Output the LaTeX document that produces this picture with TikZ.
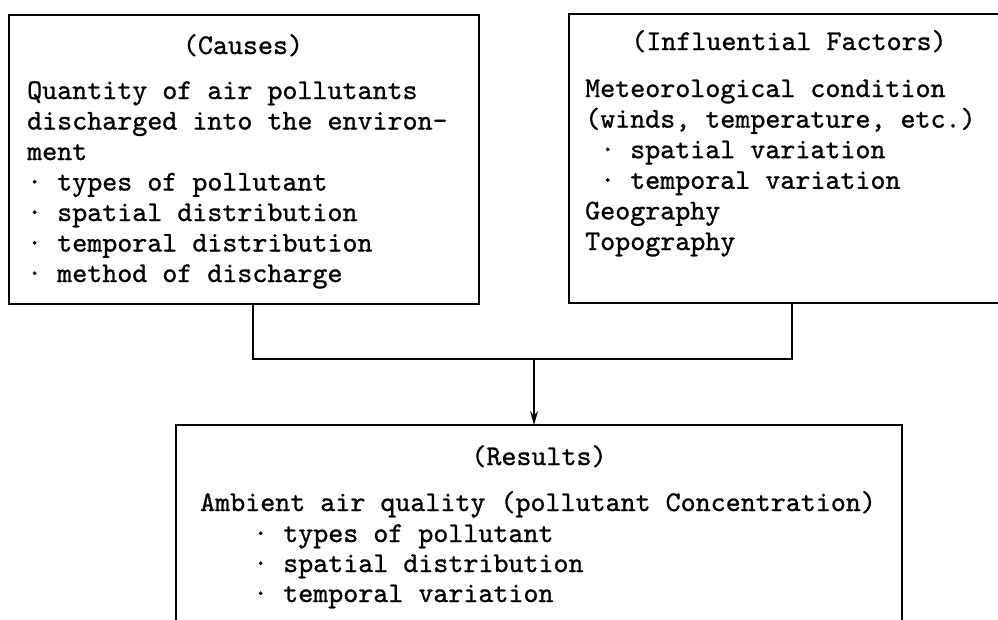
\documentclass[tikz,border=0pt]{standalone}
\usepackage{fontspec}
\newfontfamily\twfont{lmmono10-regular.otf}[UprightFeatures={FakeBold=0.9}]
\usetikzlibrary{arrows.meta}
\begin{document}
\begin{tikzpicture}[x=1pt,y=-1pt,
  boxline/.style={line width=1.6pt},
  conn/.style={line width=1.4pt},
  txt/.style={inner sep=0pt,anchor=base west,font=\fontsize{28.6}{30.8}\selectfont\twfont},
  head/.style={inner sep=0pt,anchor=base,font=\fontsize{28.6}{30.8}\selectfont\twfont}]
\useasboundingbox (0,0) rectangle (998,619);
\clip (0,0) rectangle (998,619);
% boxes
\draw[boxline] (9,15) rectangle (479,304);
\draw[boxline] (569,14) rectangle (1010,303);
\draw[boxline] (176,425) rectangle (902,640);
\coordinate (cb) at (253,304);
\coordinate (ib) at (792,303);
\coordinate (jl) at (253,359);
\coordinate (jr) at (792,359);
\coordinate (jm) at (534,359);
\coordinate (rt) at (534,425);
% left box text
\node[head] (ch) at (243,54) {(Causes)};
\foreach \t [count=\i] in {Quantity of air pollutants,discharged into the environ-,ment,· types of pollutant,· spatial distribution,· temporal distribution,· method of discharge}
  \node[txt] (c\i) at (27,{99+30.5*(\i-1)}) {\t};
% right box text
\node[head] (fh) at (789,50) {(Influential Factors)};
\foreach \t [count=\i] in {Meteorological condition,{(winds, temperature, etc.)},\hspace*{15pt}· spatial variation,\hspace*{15pt}· temporal variation,Geography,Topography}
  \node[txt] (f\i) at (585,{97+30.6*(\i-1)}) {\t};
% bottom box text
\node[head] (rh) at (539,465) {(Results)};
\node[txt] (r0) at (200,511) {Ambient air quality (pollutant Concentration)};
\foreach \t [count=\i] in {· types of pollutant,· spatial distribution,· temporal variation}
  \node[txt] (r\i) at (253,{542+30*(\i-1)}) {\t};
% connectors
\draw[conn] (cb) -- (jl) -- (jr) -- (ib);
\draw[conn,-{Stealth[length=14pt,width=8pt]}] (jm) -- (rt);
\end{tikzpicture}
\end{document}
